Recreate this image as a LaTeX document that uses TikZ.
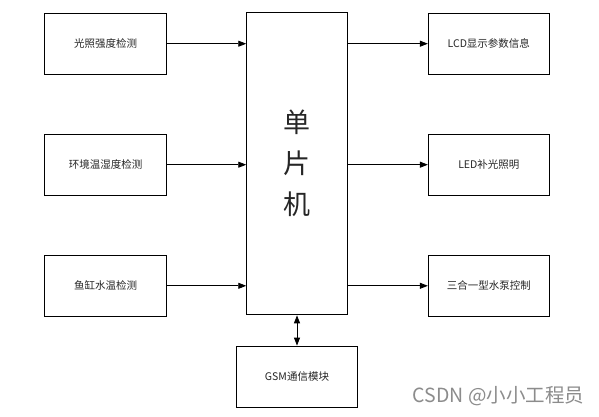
\documentclass[tikz,border=0pt]{standalone}
\usepackage{fontspec}
\newfontfamily\cjk{Noto Sans CJK SC}
\usetikzlibrary{arrows.meta}
\begin{document}
\begin{tikzpicture}[x=1pt,y=1pt,
  box/.style={draw=black,line width=0.9pt,minimum width=122pt,minimum height=60.5pt,inner sep=0pt,font=\cjk\fontsize{10.5}{12}\selectfont,text=black!85},
  conn/.style={line width=0.9pt,-{Triangle[length=8pt,width=6pt]}},
  conn2/.style={line width=0.9pt,{Triangle[length=8pt,width=6pt]}-{Triangle[length=8pt,width=6pt]}}]
\useasboundingbox[fill=white] (0,0) rectangle (599,416);
\node[box] (l1) at (105.5,372.3) {光照强度检测};
\node[box] (l2) at (105.5,251.3) {环境温湿度检测};
\node[box] (l3) at (105.5,130.2) {鱼缸水温检测};
\node[box,minimum width=100.6pt,minimum height=302.7pt,font=\cjk\fontsize{27}{41}\selectfont,align=center] (c) at (297,252.5) {单\\片\\机};
\node[box,minimum width=121pt] (r1) at (488.8,372.3) {LCD显示参数信息};
\node[box,minimum width=121pt] (r2) at (488.8,251.3) {LED补光照明};
\node[box,minimum width=121pt] (r3) at (488.8,130.2) {三合一型水泵控制};
\node[box,minimum width=120.6pt,minimum height=61.3pt] (g) at (297,39.3) {GSM通信模块};
\draw[conn] (l1.east) -- (l1.east -| c.west);
\draw[conn] (l2.east) -- (l2.east -| c.west);
\draw[conn] (l3.east) -- (l3.east -| c.west);
\draw[conn] (r1.west -| c.east) -- (r1.west);
\draw[conn] (r2.west -| c.east) -- (r2.west);
\draw[conn] (r3.west -| c.east) -- (r3.west);
\draw[conn2] (c.south) -- (g.north);
\node[font=\cjk\fontsize{19.5}{21}\selectfont,text=black!45,anchor=west,inner sep=0pt] (wm) at (412.5,19.5) {CSDN @小小工程员};
\end{tikzpicture}
\end{document}
